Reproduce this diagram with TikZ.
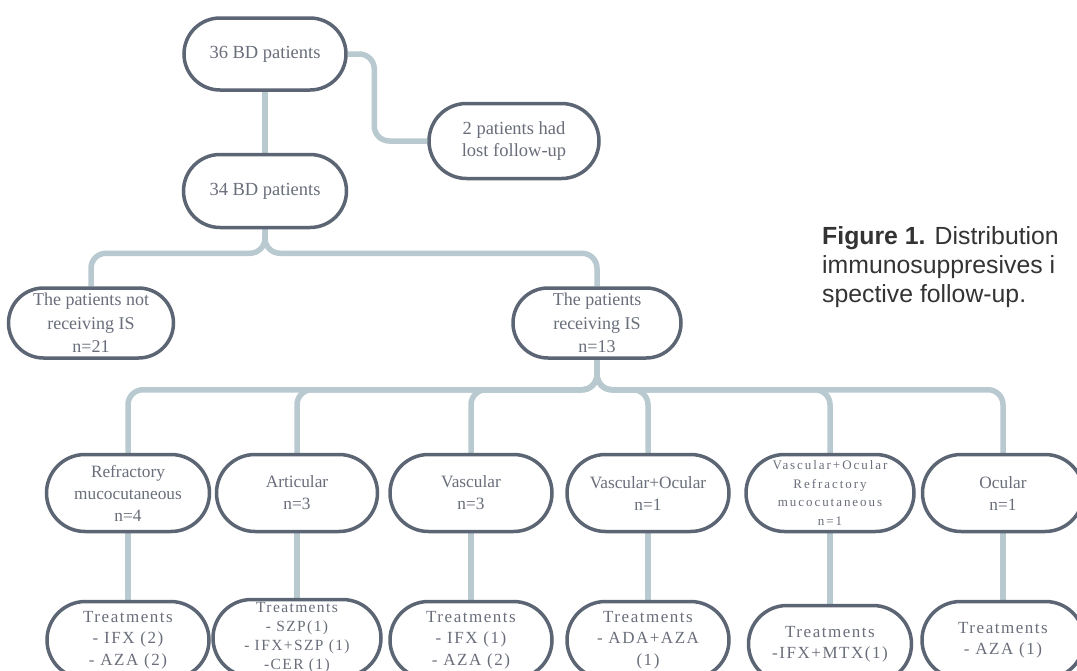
\documentclass[tikz,border=0pt]{standalone}
\usepackage{fontspec}
\setmainfont{Liberation Serif}
\newfontfamily\capfont{Liberation Sans}
\newfontfamily\trackfont[LetterSpace=9]{Liberation Serif}
\newfontfamily\widefont[LetterSpace=15]{Liberation Serif}
\usepackage{tikz}
\usetikzlibrary{shapes.misc}
\pgfdeclarelayer{back}
\pgfsetlayers{back,main}
\definecolor{boxline}{RGB}{92,101,115}
\definecolor{boxtext}{RGB}{105,110,122}
\definecolor{linkline}{RGB}{184,201,208}
\definecolor{captext}{RGB}{51,51,51}

\begin{document}
\begin{tikzpicture}[x=1pt, y=-1pt,
    pill/.style={rounded rectangle, draw=boxline, line width=3.5pt, fill=white, text=boxtext,
        align=center, minimum height=75pt, inner xsep=6pt, inner ysep=0pt},
    top/.style={pill, font=\fontsize{18.5}{22}\selectfont},
    grp/.style={pill, minimum height=70pt, font=\fontsize{18}{23.5}\selectfont},
    cls/.style={pill, minimum height=77pt, minimum width=175pt, font=\fontsize{17.3}{22}\selectfont},
    treat/.style={pill, minimum height=77pt, minimum width=174pt, font=\trackfont\fontsize{17}{21.5}\selectfont},
    link/.style={draw=linkline, line width=5.5pt, rounded corners=15pt}]
    \useasboundingbox (0,0) rectangle (1077,670);
    \clip (0,0) rectangle (1077,670);

    \node[top, minimum width=174pt, minimum height=72pt] (n36) at (265,54) {36 BD patients};
    \node[top, minimum width=182pt] (lost) at (514,141) {2 patients had\\lost follow-up};
    \node[top, minimum width=175pt, minimum height=73pt] (n34) at (265,191) {34 BD patients};

    \node[grp, minimum width=177pt] (noIS) at (91,323) {The patients not\\receiving IS\\n=21};
    \node[grp, minimum width=180pt] (yesIS) at (597,323) {The patients\\receiving IS\\n=13};

    \node[cls] (refr) at (128,493) {Refractory\\mucocutaneous\\n=4};
    \node[cls, minimum width=173pt] (artic) at (297,493) {Articular\\n=3};
    \node[cls, minimum width=174pt] (vasc) at (471,493) {Vascular\\n=3};
    \node[cls, minimum width=174pt] (vaoc) at (648,493) {Vascular+Ocular\\n=1};
    \node[cls, minimum width=180pt, font=\widefont\fontsize{13}{18.7}\selectfont] (vaor) at (830,493)
        {Vascular+Ocular\\Refractory\\mucocutaneous\\n=1};
    \node[cls, minimum width=173pt] (ocul) at (1003,493) {Ocular\\n=1};

    \node[treat] (trefr) at (128,640) {Treatments\\- IFX (2)\\- AZA (2)};
    \node[treat, minimum width=180pt, font=\trackfont\fontsize{15.5}{19}\selectfont] (tartic) at (297,638)
        {Treatments\\- SZP(1)\\- IFX+SZP (1)\\-CER (1)};
    \node[treat] (tvasc) at (471,640) {Treatments\\- IFX (1)\\- AZA (2)};
    \node[treat] (tvaoc) at (648,640) {Treatments\\- ADA+AZA\\(1)};
    \node[treat, minimum width=175pt] (tvaor) at (830,644) {Treatments\\-IFX+MTX(1)};
    \node[treat] (tocul) at (1003,640) {Treatments\\- AZA (1)};

    \node[anchor=north west, inner sep=0pt, align=left, text=captext,
        font=\capfont\fontsize{24.8}{29}\selectfont] (cap) at (822,226)
        {\textbf{Figure 1.} Distribution\\immunosuppresives i\\spective follow-up.};

    \begin{pgfonlayer}{back}
        \draw[link] (n36.south) -- (n34.north);
        \draw[link] (n36.east) -| ([xshift=-53pt]lost.west) -- (lost.west);
        \draw[link] (n34.south) |- ([yshift=33pt]noIS.north) -- (noIS.north);
        \draw[link] (n34.south) |- ([yshift=33pt]yesIS.north) -- (yesIS.north);
        \foreach \c in {refr,artic,vasc,vaoc,vaor,ocul}
            \draw[link] (yesIS.south) |- ([yshift=63pt]\c.north) -- (\c.north);
        \foreach \c/\t in {refr/trefr,artic/tartic,vasc/tvasc,vaoc/tvaoc,vaor/tvaor,ocul/tocul}
            \draw[link] (\c.south) -- (\t.north);
    \end{pgfonlayer}
\end{tikzpicture}
\end{document}
